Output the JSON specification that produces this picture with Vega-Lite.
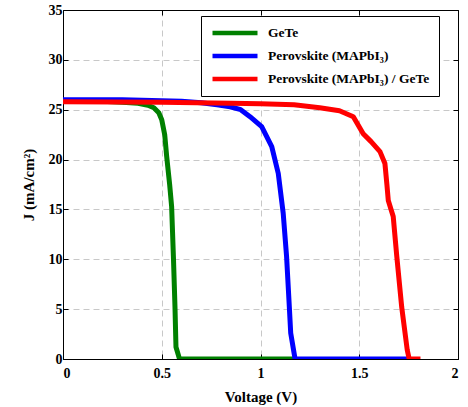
{
  "$schema": "https://vega.github.io/schema/vega-lite/v6.json",
  "width": 395,
  "height": 349,
  "autosize": {"type": "none"},
  "padding": {"left": 63, "top": 10, "right": 10, "bottom": 48},
  "background": "white",
  "config": {
    "view": {"stroke": "black", "strokeWidth": 1},
    "font": "Liberation Serif, DejaVu Serif, serif",
    "axis": {
      "labelFont": "Liberation Serif, DejaVu Serif, serif",
      "labelFontWeight": "bold",
      "labelFontSize": 14,
      "labelColor": "black",
      "titleFont": "Liberation Serif, DejaVu Serif, serif",
      "titleFontWeight": "bold",
      "titleFontSize": 15,
      "titleColor": "black",
      "domainColor": "black",
      "tickColor": "black",
      "tickSize": -5,
      "gridColor": "#c8c8c8",
      "gridDash": [6, 4],
      "gridWidth": 1
    }
  },
  "data": {
    "values": [
      {"series": "GeTe", "V": 0.0, "J": 25.9},
      {"series": "GeTe", "V": 0.2, "J": 25.85},
      {"series": "GeTe", "V": 0.3, "J": 25.75},
      {"series": "GeTe", "V": 0.38, "J": 25.65},
      {"series": "GeTe", "V": 0.43, "J": 25.45},
      {"series": "GeTe", "V": 0.46, "J": 25.2},
      {"series": "GeTe", "V": 0.485, "J": 24.7},
      {"series": "GeTe", "V": 0.5, "J": 24.0},
      {"series": "GeTe", "V": 0.515, "J": 22.5},
      {"series": "GeTe", "V": 0.525, "J": 20.3},
      {"series": "GeTe", "V": 0.54, "J": 17.5},
      {"series": "GeTe", "V": 0.55, "J": 15.3},
      {"series": "GeTe", "V": 0.559, "J": 10.3},
      {"series": "GeTe", "V": 0.567, "J": 5.2},
      {"series": "GeTe", "V": 0.572, "J": 1.2},
      {"series": "GeTe", "V": 0.59, "J": 0},
      {"series": "GeTe", "V": 1.17, "J": 0},
      {"series": "Perovskite (MAPbI₃)", "V": 0.0, "J": 26.0},
      {"series": "Perovskite (MAPbI₃)", "V": 0.3, "J": 26.0},
      {"series": "Perovskite (MAPbI₃)", "V": 0.6, "J": 25.85},
      {"series": "Perovskite (MAPbI₃)", "V": 0.7, "J": 25.7},
      {"series": "Perovskite (MAPbI₃)", "V": 0.78, "J": 25.5},
      {"series": "Perovskite (MAPbI₃)", "V": 0.846, "J": 25.3},
      {"series": "Perovskite (MAPbI₃)", "V": 0.9, "J": 25.0},
      {"series": "Perovskite (MAPbI₃)", "V": 0.947, "J": 24.3},
      {"series": "Perovskite (MAPbI₃)", "V": 1.006, "J": 23.3},
      {"series": "Perovskite (MAPbI₃)", "V": 1.057, "J": 21.3},
      {"series": "Perovskite (MAPbI₃)", "V": 1.09, "J": 18.6},
      {"series": "Perovskite (MAPbI₃)", "V": 1.115, "J": 14.6},
      {"series": "Perovskite (MAPbI₃)", "V": 1.132, "J": 10.3},
      {"series": "Perovskite (MAPbI₃)", "V": 1.146, "J": 5.2},
      {"series": "Perovskite (MAPbI₃)", "V": 1.153, "J": 2.6},
      {"series": "Perovskite (MAPbI₃)", "V": 1.175, "J": 0},
      {"series": "Perovskite (MAPbI₃)", "V": 1.75, "J": 0},
      {"series": "Perovskite (MAPbI₃) / GeTe", "V": 0.0, "J": 25.8},
      {"series": "Perovskite (MAPbI₃) / GeTe", "V": 0.5, "J": 25.75},
      {"series": "Perovskite (MAPbI₃) / GeTe", "V": 0.85, "J": 25.65},
      {"series": "Perovskite (MAPbI₃) / GeTe", "V": 1.0, "J": 25.6},
      {"series": "Perovskite (MAPbI₃) / GeTe", "V": 1.17, "J": 25.5},
      {"series": "Perovskite (MAPbI₃) / GeTe", "V": 1.3, "J": 25.2},
      {"series": "Perovskite (MAPbI₃) / GeTe", "V": 1.4, "J": 24.9},
      {"series": "Perovskite (MAPbI₃) / GeTe", "V": 1.47, "J": 24.3},
      {"series": "Perovskite (MAPbI₃) / GeTe", "V": 1.52, "J": 22.6},
      {"series": "Perovskite (MAPbI₃) / GeTe", "V": 1.56, "J": 21.8},
      {"series": "Perovskite (MAPbI₃) / GeTe", "V": 1.605, "J": 20.8},
      {"series": "Perovskite (MAPbI₃) / GeTe", "V": 1.63, "J": 19.6},
      {"series": "Perovskite (MAPbI₃) / GeTe", "V": 1.64, "J": 17.5},
      {"series": "Perovskite (MAPbI₃) / GeTe", "V": 1.647, "J": 15.9},
      {"series": "Perovskite (MAPbI₃) / GeTe", "V": 1.672, "J": 14.3},
      {"series": "Perovskite (MAPbI₃) / GeTe", "V": 1.69, "J": 10.3},
      {"series": "Perovskite (MAPbI₃) / GeTe", "V": 1.715, "J": 5.2},
      {"series": "Perovskite (MAPbI₃) / GeTe", "V": 1.743, "J": 0.9},
      {"series": "Perovskite (MAPbI₃) / GeTe", "V": 1.753, "J": 0},
      {"series": "Perovskite (MAPbI₃) / GeTe", "V": 1.81, "J": 0}
    ]
  },
  "layer": [
    {
      "mark": {"type": "line", "strokeWidth": 5, "strokeJoin": "round", "clip": true},
      "encoding": {
        "x": {
          "field": "V", "type": "quantitative",
          "scale": {"domain": [0, 2], "nice": false, "zero": false},
          "axis": {"values": [0, 0.5, 1, 1.5, 2], "format": "~g", "title": "Voltage (V)", "labelPadding": 12, "titlePadding": 9}
        },
        "y": {
          "field": "J", "type": "quantitative",
          "scale": {"domain": [0, 35], "nice": false},
          "axis": {"values": [0, 5, 10, 15, 20, 25, 30, 35], "title": "J (mA/cm²)", "labelPadding": 6, "titlePadding": 12}
        },
        "color": {
          "field": "series", "type": "nominal",
          "scale": {
            "domain": ["GeTe", "Perovskite (MAPbI₃)", "Perovskite (MAPbI₃) / GeTe"],
            "range": ["#008000", "#0000ff", "#ff0000"]
          },
          "legend": {
            "title": null,
            "orient": "none",
            "legendX": 138,
            "legendY": 6,
            "symbolType": "stroke",
            "symbolSize": 2025,
            "symbolStrokeWidth": 4.5,
            "clipHeight": 16,
            "labelFont": "Liberation Serif, DejaVu Serif, serif",
            "labelFontWeight": "bold",
            "labelFontSize": 13.5,
            "labelLimit": 300,
            "labelColor": "black",
            "labelOffset": 8,
            "rowPadding": 7,
            "padding": 9,
            "strokeColor": "black",
            "fillColor": "white",
            "cornerRadius": 0
          }
        }
      }
    },
    {
      "mark": {"type": "point", "opacity": 0},
      "encoding": {
        "x": {
          "field": "V", "type": "quantitative",
          "axis": {"orient": "top", "values": [0, 0.5, 1, 1.5, 2], "labels": false, "title": null, "grid": false}
        },
        "y": {
          "field": "J", "type": "quantitative",
          "axis": {"orient": "right", "values": [0, 5, 10, 15, 20, 25, 30, 35], "labels": false, "title": null, "grid": false}
        }
      }
    }
  ],
  "resolve": {"axis": {"x": "independent", "y": "independent"}}
}
